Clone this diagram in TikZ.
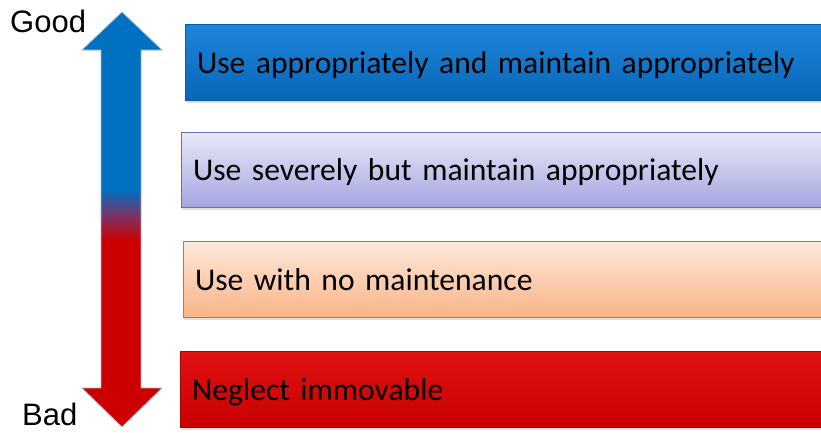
\documentclass[tikz,border=0pt]{standalone}
\usepackage{fontspec}
\setmainfont{Carlito}
\newfontfamily\arialfont{Liberation Sans}
\usetikzlibrary{shadows}
\definecolor{bluetop}{HTML}{1E86DA}
\definecolor{bluebot}{HTML}{0766B8}
\definecolor{blueedge}{HTML}{0A5CA6}
\definecolor{lavtop}{HTML}{E8E8F8}
\definecolor{lavbot}{HTML}{A6A6E0}
\definecolor{lavedge}{HTML}{6E6EAE}
\definecolor{peachtop}{HTML}{FDE8DA}
\definecolor{peachbot}{HTML}{FAB488}
\definecolor{peachedge}{HTML}{8C7C9C}
\definecolor{redtop}{HTML}{E01212}
\definecolor{redbot}{HTML}{C80000}
\definecolor{rededge}{HTML}{B00000}
\definecolor{arrblue}{HTML}{0070C0}
\definecolor{arrred}{HTML}{CC0000}
\definecolor{arrmid}{HTML}{7A3468}
\pgfdeclareverticalshading{goodbad}{100bp}{color(0bp)=(arrred); color(47.5bp)=(arrred); color(50.5bp)=(arrmid); color(53.6bp)=(arrblue); color(100bp)=(arrblue)}
\tikzset{
  levelbox/.style={rectangle, inner xsep=12pt, inner ysep=0pt, align=left,
    text height=25pt, text depth=3pt,
    font=\fontsize{31.6}{37}\selectfont, text=black, line width=0.8pt,
    drop shadow={opacity=0.25, shadow xshift=1pt, shadow yshift=-2.5pt}},
  endlabel/.style={font=\arialfont\fontsize{31}{36}\selectfont, text=black, inner sep=0pt}
}
\begin{document}
\begin{tikzpicture}[x=1pt,y=-1pt]
\useasboundingbox (0,0) rectangle (821,432);
\clip (0,0) rectangle (821,432);
% gradient arrow
\path[shading=goodbad, draw=white!75!arrblue!60!gray, line width=0.8pt]
  (122,12) -- (162,50) -- (141,50) -- (141,388) -- (162,388) -- (122,427)
  -- (82,388) -- (101,388) -- (101,50) -- (82,50) -- cycle;
\node[endlabel, anchor=base west] (good) at (10,32) {Good};
\node[endlabel, anchor=base west] (bad) at (22,425) {Bad};
% level boxes
\node[levelbox, top color=bluetop, bottom color=bluebot, draw=blueedge,
  minimum width=645pt, text width=621pt, minimum height=76pt] (b1) at (507.5,62)
  {Use appropriately and maintain appropriately};
\node[levelbox, top color=lavtop, bottom color=lavbot, draw=lavedge,
  minimum width=649pt, text width=625pt, minimum height=75pt] (b2) at (505.5,169.5)
  {Use severely but maintain appropriately};
\node[levelbox, top color=peachtop, bottom color=peachbot, draw=peachedge,
  minimum width=647pt, text width=623pt, minimum height=76pt] (b3) at (506.5,279)
  {Use with no maintenance};
\node[levelbox, top color=redtop, bottom color=redbot, draw=rededge,
  minimum width=650pt, text width=626pt, minimum height=76pt] (b4) at (505,389)
  {Neglect immovable};
\end{tikzpicture}
\end{document}
